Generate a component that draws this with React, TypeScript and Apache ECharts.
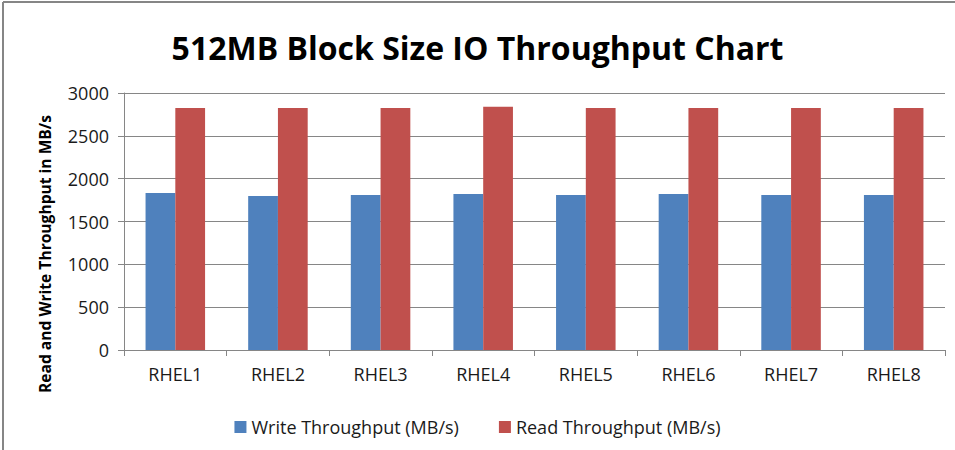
import React, { useEffect, useRef } from "react";
import * as echarts from "echarts";

const categories = ["RHEL1", "RHEL2", "RHEL3", "RHEL4", "RHEL5", "RHEL6", "RHEL7", "RHEL8"];
const writeThroughput = [1833, 1798, 1810, 1822, 1810, 1822, 1810, 1810];
const readThroughput = [2825, 2825, 2825, 2840, 2825, 2825, 2825, 2825];
const seriesNames = ["Write Throughput (MB/s)", "Read Throughput (MB/s)"];
const titleText = "512MB Block Size IO Throughput Chart";
const yAxisTitle = "Read and Write Throughput in MB/s";

const FONT = "'Open Sans', sans-serif";

export default function App() {
  const ref = useRef<HTMLDivElement>(null);
  useEffect(() => {
    if (!ref.current) return;
    const chart = echarts.init(ref.current, undefined, { renderer: "svg" });
    chart.setOption({
      animation: false,
      backgroundColor: "#ffffff",
      title: {
        text: titleText,
        left: "center",
        top: 26,
        textStyle: { fontFamily: FONT, fontSize: 32, fontWeight: "bold", color: "#000" },
      },
      legend: {
        top: 413,
        left: "center",
        itemWidth: 12,
        itemHeight: 12,
        itemGap: 40,
        icon: "rect",
        textStyle: { fontFamily: FONT, fontSize: 18, color: "#1a1a1a" },
        data: seriesNames,
      },
      grid: { left: 124, right: 10, top: 93, bottom: 100 },
      xAxis: {
        type: "category",
        data: categories,
        axisLine: { lineStyle: { color: "#868686" } },
        axisTick: { show: true, alignWithLabel: false, length: 6, lineStyle: { color: "#868686" } },
        axisLabel: { fontFamily: FONT, fontSize: 18, color: "#1a1a1a", margin: 15 },
      },
      yAxis: {
        type: "value",
        min: 0,
        max: 3000,
        interval: 500,
        axisLine: { show: true, lineStyle: { color: "#868686" } },
        axisTick: { show: true, length: 6, lineStyle: { color: "#868686" } },
        axisLabel: {
          fontFamily: FONT,
          fontSize: 18,
          color: "#1a1a1a",
          margin: 15,
          formatter: (v: number) => String(v),
        },
        splitLine: { lineStyle: { color: "#868686" } },
      },
      series: [
        {
          name: seriesNames[0],
          type: "bar",
          data: writeThroughput,
          barGap: "0%",
          barCategoryGap: "42%",
          itemStyle: { color: "#4F81BD" },
        },
        {
          name: seriesNames[1],
          type: "bar",
          data: readThroughput,
          barGap: "0%",
          barCategoryGap: "42%",
          itemStyle: { color: "#C0504D" },
        },
      ],
      graphic: [
        {
          type: "text",
          x: 45,
          y: 254,
          rotation: Math.PI / 2,
          style: {
            text: yAxisTitle,
            font: "bold 15.6px 'Open Sans', sans-serif",
            fill: "#000",
            align: "center",
            verticalAlign: "middle",
          },
        },
        { type: "line", shape: { x1: 3, y1: 2, x2: 955, y2: 2 }, style: { stroke: "#868686", lineWidth: 2 } },
        { type: "line", shape: { x1: 3, y1: 2, x2: 3, y2: 450 }, style: { stroke: "#868686", lineWidth: 2 } },
      ],
    });
    return () => chart.dispose();
  }, []);
  return (
    <div
      ref={ref}
      style={{ position: "fixed", left: 0, top: 0, width: 955, height: 450 }}
    />
  );
}
